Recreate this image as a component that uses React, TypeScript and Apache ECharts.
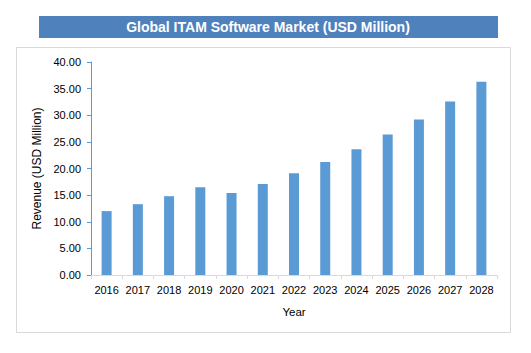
import React, { useEffect, useRef } from "react";
import * as echarts from "echarts";

const years = ["2016","2017","2018","2019","2020","2021","2022","2023","2024","2025","2026","2027","2028"];
const revenue = [12.0, 13.3, 14.8, 16.5, 15.4, 17.1, 19.1, 21.2, 23.6, 26.4, 29.2, 32.6, 36.3];
const titleText = "Global ITAM Software Market (USD Million)";
const yAxisTitle = "Revenue (USD Million)";
const xAxisTitle = "Year";

const FONT = "'Liberation Sans', Arial, sans-serif";

export default function App() {
  const ref = useRef<HTMLDivElement>(null);
  useEffect(() => {
    if (!ref.current) return;
    const chart = echarts.init(ref.current, null, { renderer: "svg" });
    chart.setOption({
      animation: false,
      backgroundColor: "#ffffff",
      textStyle: { fontFamily: FONT },
      graphic: [
        {
          type: "rect",
          shape: { x: 16.5, y: 47.5, width: 494, height: 285 },
          style: { fill: "none", stroke: "#d9d9d9", lineWidth: 1 },
          z: 0,
        },
        {
          type: "rect",
          shape: { x: 39, y: 16, width: 459, height: 22 },
          style: { fill: "#4F81BD" },
        },
        {
          type: "text",
          x: 268,
          y: 27,
          style: {
            text: titleText,
            fill: "#ffffff",
            font: `bold 14px ${FONT}`,
            align: "center",
            verticalAlign: "middle",
          },
        },
      ],
      grid: { left: 91, right: 34, top: 62, bottom: 78, containLabel: false },
      xAxis: {
        type: "category",
        data: years,
        name: xAxisTitle,
        nameLocation: "middle",
        nameGap: 31,
        nameTextStyle: { color: "#000", fontSize: 11.5, fontFamily: FONT },
        axisLine: { lineStyle: { color: "#d9d9d9" } },
        axisTick: { show: true, length: 4, lineStyle: { color: "#d9d9d9" } },
        axisLabel: { color: "#000", fontSize: 11, margin: 9, interval: 0, fontFamily: FONT },
      },
      yAxis: {
        type: "value",
        min: 0,
        max: 40,
        interval: 5,
        name: yAxisTitle,
        nameLocation: "middle",
        nameGap: 41,
        nameRotate: 90,
        nameTextStyle: { color: "#000", fontSize: 12, fontFamily: FONT },
        axisLine: { show: true, lineStyle: { color: "#5B9BD5" } },
        axisTick: { show: true, length: 4, lineStyle: { color: "#5B9BD5" } },
        splitLine: { show: false },
        axisLabel: {
          color: "#000",
          fontSize: 11,
          margin: 10,
          fontFamily: FONT,
          formatter: (v: number) => v.toFixed(2),
        },
      },
      series: [
        {
          type: "bar",
          data: revenue,
          barWidth: 10,
          itemStyle: { color: "#5B9BD5" },
        },
      ],
    });
    return () => chart.dispose();
  }, []);
  return (
    <div
      ref={ref}
      style={{ position: "absolute", left: 0, top: 0, width: 531, height: 353 }}
    />
  );
}
